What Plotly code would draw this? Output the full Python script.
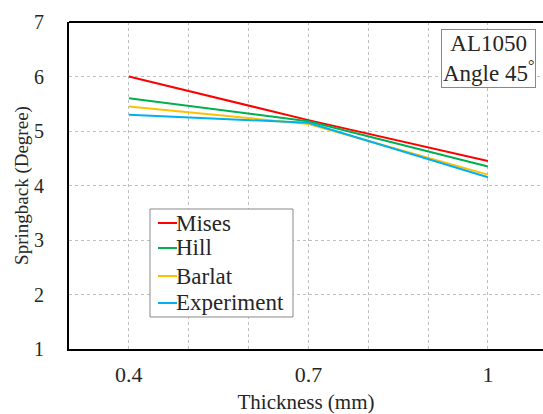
import plotly.graph_objects as go

thickness = [0.4, 0.7, 1.0]
mises = [6.0, 5.2, 4.45]
hill = [5.6, 5.18, 4.35]
barlat = [5.45, 5.13, 4.2]
experiment = [5.3, 5.15, 4.15]

names = ["Mises", "Hill", "Barlat", "Experiment"]
values = [mises, hill, barlat, experiment]
colors = ["#FF0000", "#00B050", "#FFC000", "#00B0F0"]

FONT = "Liberation Serif"
TXT = "#262626"

fig = go.Figure()
for name, vals, col in zip(names, values, colors):
    fig.add_trace(go.Scatter(x=thickness, y=vals, mode="lines", name=name,
                             line=dict(color=col, width=2)))

grid = dict(gridcolor="#c0c0c0", griddash="dot", gridwidth=1)
fig.update_layout(
    width=543, height=414,
    margin=dict(l=69, r=0, t=22, b=65),
    plot_bgcolor="white", paper_bgcolor="white",
    font=dict(family=FONT, size=20, color=TXT),
    showlegend=False,
    xaxis=dict(range=[0.3, 1.092], tickvals=[0.4, 0.7, 1.0], ticktext=["0.4", "0.7", "1"],
               showline=True, linecolor="black", linewidth=2, mirror=False,
               ticks="", ticklabelstandoff=5, zeroline=False,
               tickfont=dict(family=FONT, size=22, color=TXT),
               minor=dict(tick0=0.3, dtick=0.1, showgrid=True, **grid), **grid,
               title=dict(text="Thickness (mm)", standoff=8, font=dict(family=FONT, size=21, color=TXT))),
    yaxis=dict(range=[1, 7], dtick=1, showline=True, linecolor="black", linewidth=2,
               ticks="", ticklabelstandoff=19, zeroline=False, **grid,
               tickfont=dict(family=FONT, size=20, color=TXT),
               title=dict(text="Springback (Degree)", standoff=0, font=dict(family=FONT, size=19, color=TXT))),
)
# top border line
fig.add_shape(type="line", xref="paper", yref="paper", x0=0, x1=1, y0=1, y1=1,
              line=dict(color="black", width=2))

# legend box (drawn manually to match the compact Excel-style legend)
fig.add_shape(type="rect", xref="paper", yref="paper", x0=0.1709, x1=0.4726, y0=0.0979, y1=0.4281,
              line=dict(color="#888888", width=1), fillcolor="white", layer="above")
row_y = [0.3853, 0.3089, 0.2232, 0.1407]
for name, col, yy in zip(names, colors, row_y):
    fig.add_shape(type="line", xref="paper", yref="paper", x0=0.1878, x1=0.2278, y0=yy, y1=yy,
                  line=dict(color=col, width=2), layer="above")
    fig.add_annotation(xref="paper", yref="paper", x=0.2278, y=yy, xanchor="left", yanchor="middle",
                       text=name, showarrow=False, borderpad=0, xshift=-2,
                       font=dict(family=FONT, size=23, color=TXT))

fig.add_annotation(xref="paper", yref="paper", x=0.985, y=0.978, xanchor="right", yanchor="top",
                   text="AL1050<br>Angle 45<sup>°</sup>", showarrow=False, align="center",
                   font=dict(family=FONT, size=23, color=TXT), bgcolor="white",
                   bordercolor="#888888", borderwidth=1, borderpad=1)
fig.write_html("out.html")
